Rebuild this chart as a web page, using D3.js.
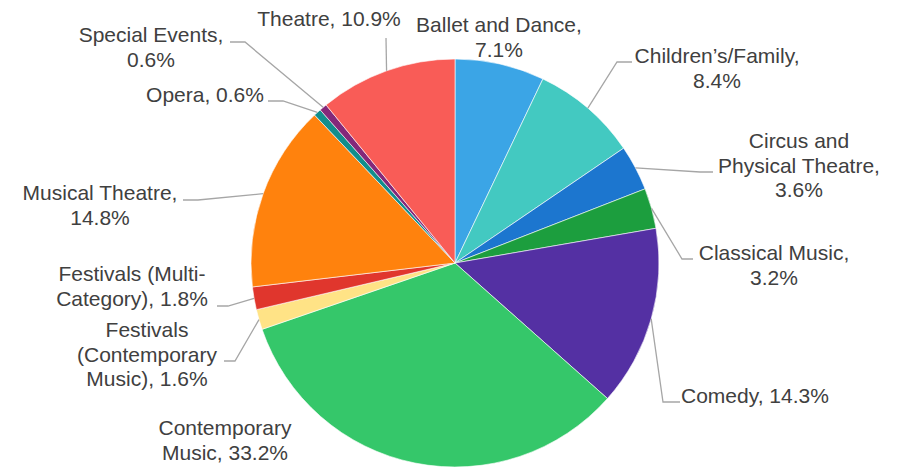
<!DOCTYPE html>
<html><head><meta charset="utf-8">
<script src="https://cdn.jsdelivr.net/npm/d3@7"></script>
<style>body{margin:0;background:#fff}svg{display:block}</style>
</head><body>
<script>
const categories = ["Ballet and Dance","Children’s/Family","Circus and Physical Theatre","Classical Music","Comedy","Contemporary Music","Festivals (Contemporary Music)","Festivals (Multi-Category)","Musical Theatre","Opera","Special Events","Theatre"];
const values = [7.1,8.4,3.6,3.2,14.3,33.2,1.6,1.8,14.8,0.6,0.6,10.9];
const colors = ["#3BA5E6","#43C9C1","#1C76CF","#1C9E3E","#5430A3","#35C76A","#FFE386","#E0362D","#FF820D","#128E8C","#84287A","#F95C57"];
const labelLines = [
  ["Ballet and Dance,","7.1%"],
  ["Children’s/Family,","8.4%"],
  ["Circus and","Physical Theatre,","3.6%"],
  ["Classical Music,","3.2%"],
  ["Comedy, 14.3%"],
  ["Contemporary","Music, 33.2%"],
  ["Festivals","(Contemporary","Music), 1.6%"],
  ["Festivals (Multi-","Category), 1.8%"],
  ["Musical Theatre,","14.8%"],
  ["Opera, 0.6%"],
  ["Special Events,","0.6%"],
  ["Theatre, 10.9%"]
];
// layout: text center x, first baseline y, leader start [x,y], elbow [x,y] (null = none)
const labelLayout = [
  {x:499,y:32,s:null,e:null},
  {x:717,y:63,s:[632,62],e:[617,62]},
  {x:799,y:148,s:[713,172],e:[700,172]},
  {x:774,y:260,s:[693,259],e:[682,259]},
  {x:756,y:403,s:[680,402],e:[663,402],anchor:"start",ax:681},
  {x:225,y:435,s:null,e:null},
  {x:147,y:337,s:[224,361],e:[235,361]},
  {x:132,y:281,s:[217,306],e:[228,306]},
  {x:100,y:200,s:[183,200],e:[198,200]},
  {x:205,y:102,s:[268,101],e:[283,101]},
  {x:151,y:42,s:[230,42],e:[245,42]},
  {x:329,y:26,s:null,e:null,lead:[386,38]}
];
const W=899,H=468,cx=455,cy=263,R=204,lh=24.5;
const svg=d3.select("body").append("svg").attr("width",W).attr("height",H);
const pie=d3.pie().sort(null).value(d=>d);
const arcs=pie(values);
const arc=d3.arc().innerRadius(0).outerRadius(R);
const g=svg.append("g").attr("transform",`translate(${cx},${cy})`);
g.selectAll("path").data(arcs).join("path").attr("d",arc)
  .attr("fill",(d,i)=>colors[i]).attr("stroke","#fff").attr("stroke-width",0.6);
// leader lines
arcs.forEach((d,i)=>{
  const L=labelLayout[i];
  const a=(d.startAngle+d.endAngle)/2;
  const px=cx+R*Math.sin(a), py=cy-R*Math.cos(a);
  let pts=null;
  if(L.s) pts=[L.s,L.e,[px,py]];
  else if(L.lead) pts=[L.lead,[px,py]];
  if(pts) svg.append("path").attr("d",d3.line()(pts)).attr("fill","none")
     .attr("stroke","#A6A6A6").attr("stroke-width",1.3);
});
// labels
labelLines.forEach((lines,i)=>{
  const L=labelLayout[i];
  const t=svg.append("text").attr("font-family","Liberation Sans, Arial, sans-serif")
    .attr("font-size",21).attr("fill","#404040").attr("text-anchor",L.anchor||"middle");
  lines.forEach((s,j)=>t.append("tspan").attr("x",L.anchor?L.ax:L.x).attr("y",L.y+j*lh).text(s));
});
</script>
</body></html>
